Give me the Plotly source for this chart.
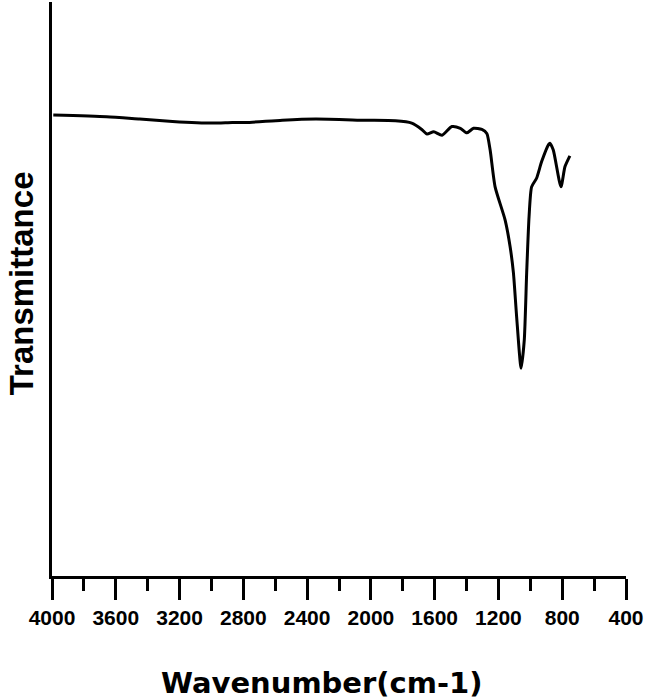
import plotly.graph_objects as go

# FTIR spectrum (wavenumber in cm-1, transmittance in a.u.)
wavenumber = [3992, 3658, 3450, 3244, 2994, 2869, 2783, 2556, 2346, 2033, 1846,
              1744, 1681, 1648, 1606, 1554, 1492, 1439, 1398, 1356, 1304, 1273,
              1252, 1221, 1158, 1127, 1106, 1086, 1058, 1038, 1023, 1008, 992,
              961, 929, 885, 877, 856, 808, 783, 752]
transmittance = [80.3, 80.0, 79.6, 79.2, 78.9, 79.0, 79.0, 79.4, 79.6, 79.4, 79.3,
                 78.9, 77.8, 77.0, 77.4, 76.8, 78.3, 78.0, 77.2, 78.0, 77.8, 77.1,
                 74.2, 67.8, 62.0, 57.4, 52.8, 45.2, 36.2, 41.1, 52.8, 62.6, 67.8,
                 69.3, 72.2, 75.2, 75.4, 74.2, 67.8, 71.3, 73.2]

x_ticks = [4000, 3600, 3200, 2800, 2400, 2000, 1600, 1200, 800, 400]

fig = go.Figure(go.Scatter(x=wavenumber, y=transmittance, mode='lines',
                           line=dict(color='black', width=3, shape='spline', smoothing=0.6),
                           showlegend=False))

fig.update_layout(
    width=646, height=700,
    margin=dict(l=52, r=18, t=2, b=124),
    plot_bgcolor='white', paper_bgcolor='white',
    xaxis=dict(range=[4000, 400], tickvals=x_ticks, ticktext=[str(t) for t in x_ticks],
               showline=True, linecolor='black', linewidth=3, mirror=False,
               ticks='outside', ticklen=21, tickwidth=3, tickcolor='black',
               minor=dict(dtick=200, tick0=0, ticks='outside', ticklen=12,
                          tickwidth=3, tickcolor='black'),
               showgrid=False, zeroline=False,
               tickfont=dict(family='Liberation Sans Narrow, Liberation Sans', size=21,
                             color='black', weight='bold')),
    yaxis=dict(range=[0, 100], showline=True, linecolor='black', linewidth=3,
               showticklabels=False, ticks='', showgrid=False, zeroline=False),
    annotations=[
        dict(text='<b>Wavenumber(cm-1)</b>', xref='paper', yref='paper',
             x=0.47, y=-0.186, xanchor='center', yanchor='middle', showarrow=False,
             font=dict(family='DejaVu Sans', size=29, color='black')),
        dict(text='<b>Transmittance</b>', xref='paper', yref='paper',
             x=-0.054, y=0.51, xanchor='center', yanchor='middle', showarrow=False,
             textangle=-90,
             font=dict(family='Liberation Sans', size=33, color='black')),
    ],
)

# drop the default page margin so the 646x700 figure fills the window exactly
fig.write_html("out.html", config=dict(displayModeBar=False),
               post_script="document.body.style.margin='0';document.body.style.overflow='hidden';")
